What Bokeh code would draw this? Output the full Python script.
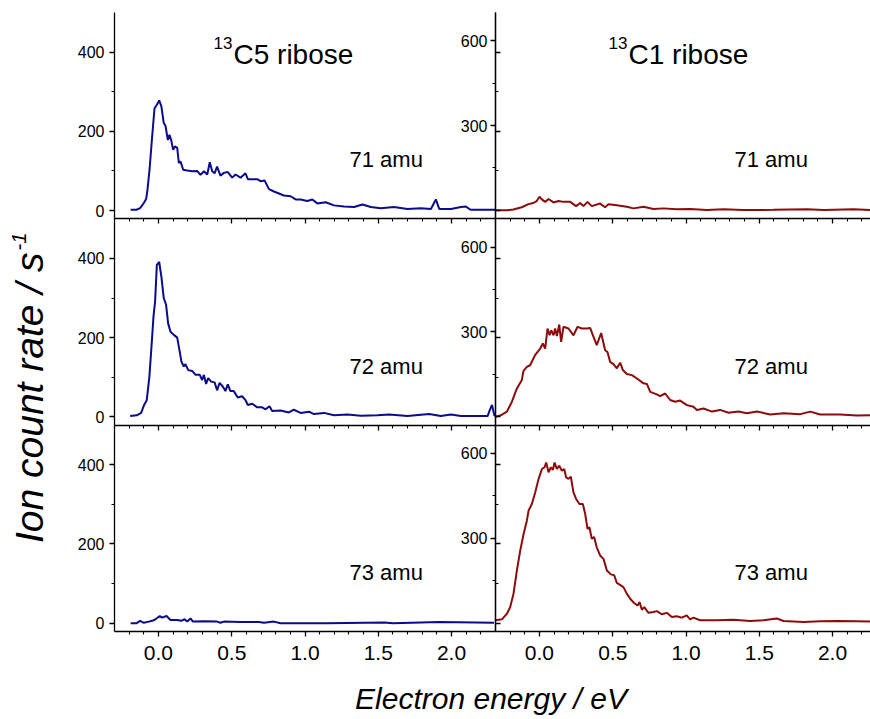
import math
from bokeh.plotting import figure
from bokeh.models import Range1d, LinearAxis, FixedTicker, Label, PrintfTickFormatter
from bokeh.embed import file_html
from bokeh.resources import INLINE

# ---------------- data ----------------
# 13C5 ribose, 71 amu
e_c5_71 = [-0.19, -0.15, -0.125, -0.10, -0.084, -0.075, -0.061, -0.045, -0.027, -0.011,
           0.005, 0.02, 0.036, 0.048, 0.064, 0.075, 0.087, 0.10, 0.112, 0.128,
           0.139, 0.15, 0.169, 0.196, 0.23, 0.264, 0.287, 0.31, 0.333, 0.35,
           0.367, 0.383, 0.40, 0.423, 0.446, 0.473, 0.503, 0.526, 0.56, 0.594,
           0.61, 0.64, 0.674, 0.697, 0.724, 0.754, 0.788, 0.822, 0.856, 0.902,
           0.936, 0.97, 1.016, 1.05, 1.084, 1.141, 1.198, 1.266, 1.335, 1.392,
           1.449, 1.517, 1.608, 1.699, 1.79, 1.859, 1.893, 1.916, 1.996, 2.064,
           2.098, 2.13, 2.22, 2.30]
c5_71 = [2, 2, 6, 19, 29, 52, 103, 178, 258, 267,
         278, 263, 221, 214, 178, 191, 178, 153, 162, 158,
         120, 124, 103, 101, 99, 100, 90, 99, 91, 122,
         99, 94, 111, 88, 95, 97, 83, 91, 83, 94,
         79, 79, 79, 74, 76, 54, 48, 43, 38, 36,
         28, 28, 24, 28, 18, 21, 13, 10, 9, 15,
         9, 6, 9, 4, 6, 4, 28, 4, 4, 9,
         10, 2, 2, 2]

# 13C5 ribose, 72 amu
e_c5_72 = [-0.193, -0.148, -0.118, -0.098, -0.08, -0.062, -0.046, -0.034, -0.023, -0.011,
           0.005, 0.02, 0.036, 0.052, 0.066, 0.082, 0.105, 0.128, 0.143, 0.157,
           0.173, 0.184, 0.203, 0.23, 0.253, 0.282, 0.298, 0.31, 0.325, 0.339,
           0.36, 0.383, 0.40, 0.417, 0.44, 0.457, 0.473, 0.491, 0.514, 0.541,
           0.571, 0.594, 0.61, 0.64, 0.674, 0.708, 0.731, 0.758, 0.776, 0.833,
           0.89, 0.924, 0.97, 1.027, 1.061, 1.13, 1.198, 1.289, 1.381, 1.494,
           1.574, 1.699, 1.847, 1.927, 1.996, 2.064, 2.155, 2.246, 2.262, 2.276,
           2.292, 2.30]
c5_72 = [2, 4, 10, 30, 42, 101, 186, 253, 291, 384,
         391, 354, 300, 283, 236, 215, 207, 200, 169, 139,
         127, 133, 118, 116, 106, 106, 93, 106, 83, 98,
         89, 87, 67, 86, 76, 65, 82, 65, 65, 49,
         52, 42, 30, 33, 24, 24, 19, 27, 15, 16,
         11, 18, 10, 13, 7, 10, 4, 6, 3, 4,
         6, 2, 7, 2, 6, 2, 2, 2, 18, 30,
         4, 2]

# 13C5 ribose, 73 amu
e_c5_73 = [-0.19, -0.148, -0.125, -0.10, -0.066, -0.043, -0.02, 0.009, 0.025, 0.055,
           0.082, 0.128, 0.155, 0.178, 0.196, 0.219, 0.235, 0.31, 0.40, 0.423,
           0.446, 0.56, 0.685, 0.72, 0.788, 0.833, 1.152, 1.54, 1.60, 1.916,
           2.29]
c5_73 = [0, 0, 6, 1, 4, 6, 10, 18, 14, 18,
         8, 8, 6, 10, 4, 12, 4, 5, 4, 1,
         4, 3, 3, 1, 4, 0, 0, 2, 0, 3,
         1]

# 13C1 ribose, 71 amu
e_c1_71 = [-0.30, -0.224, -0.178, -0.121, -0.076, -0.042, -0.019, 0.0, 0.016, 0.039,
           0.062, 0.096, 0.13, 0.164, 0.21, 0.25, 0.278, 0.30, 0.328, 0.357,
           0.414, 0.448, 0.471, 0.528, 0.596, 0.642, 0.71, 0.778, 0.846, 0.937,
           1.028, 1.142, 1.256, 1.39, 1.597, 1.825, 1.94, 2.143, 2.26]
c1_71 = [0, 0, 3, 11, 22, 26, 33, 48, 39, 30,
         40, 28, 33, 30, 30, 15, 26, 15, 30, 15,
         24, 11, 22, 18, 13, 7, 13, 5, 7, 4,
         5, 1, 4, 1, 2, 4, 1, 4, 1]

# 13C1 ribose, 72 amu
e_c1_72 = [-0.30, -0.268, -0.222, -0.188, -0.154, -0.12, -0.109, -0.086, -0.064, -0.03,
           0.005, 0.023, 0.039, 0.055, 0.069, 0.08, 0.096, 0.107, 0.119, 0.135,
           0.148, 0.164, 0.198, 0.232, 0.26, 0.289, 0.323, 0.346, 0.369, 0.391,
           0.421, 0.448, 0.464, 0.482, 0.505, 0.528, 0.551, 0.569, 0.596, 0.631,
           0.665, 0.71, 0.733, 0.756, 0.801, 0.824, 0.858, 0.892, 0.926, 0.96,
           1.006, 1.051, 1.074, 1.12, 1.177, 1.233, 1.29, 1.358, 1.415, 1.484,
           1.575, 1.666, 1.78, 1.848, 1.916, 2.052, 2.166, 2.26]
c1_72 = [0, 4, 18, 53, 100, 130, 162, 176, 182, 218,
         241, 259, 241, 312, 288, 306, 288, 312, 285, 326,
         265, 318, 312, 288, 318, 312, 312, 314, 282, 253,
         296, 235, 229, 194, 186, 171, 191, 165, 151, 147,
         135, 118, 116, 88, 79, 73, 82, 59, 53, 57,
         41, 35, 24, 29, 18, 24, 14, 18, 12, 18,
         8, 12, 9, 18, 8, 8, 4, 5]

# 13C1 ribose, 73 amu
e_c1_73 = [-0.30, -0.256, -0.222, -0.20, -0.177, -0.154, -0.131, -0.108, -0.086, -0.074,
           -0.052, -0.029, -0.006, 0.017, 0.035, 0.046, 0.062, 0.078, 0.092, 0.103,
           0.119, 0.135, 0.153, 0.169, 0.182, 0.198, 0.214, 0.232, 0.25, 0.273,
           0.296, 0.312, 0.328, 0.341, 0.357, 0.373, 0.391, 0.414, 0.437, 0.46,
           0.487, 0.51, 0.528, 0.555, 0.573, 0.596, 0.619, 0.646, 0.669, 0.683,
           0.699, 0.715, 0.744, 0.778, 0.801, 0.835, 0.869, 0.903, 0.937, 0.971,
           1.005, 1.028, 1.051, 1.096, 1.21, 1.324, 1.438, 1.529, 1.62, 1.666,
           1.802, 1.916, 2.03, 2.166, 2.26]
c1_73 = [10, 13, 33, 56, 104, 186, 257, 316, 362, 398,
         421, 462, 510, 545, 551, 568, 533, 551, 542, 568,
         545, 557, 539, 545, 515, 510, 518, 462, 439, 421,
         421, 386, 333, 339, 298, 304, 268, 239, 227, 186,
         172, 169, 142, 133, 127, 104, 86, 71, 62, 74,
         47, 56, 36, 39, 42, 31, 36, 21, 24, 19,
         27, 13, 19, 10, 10, 12, 7, 10, 16, 7,
         4, 6, 7, 6, 5]

mass_labels = ["71 amu", "72 amu", "73 amu"]
col_titles = ["C5 ribose", "C1 ribose"]
title_sup = "13"
left_ticks = [0, 200, 400]
left_minor = [100, 300]
right_ticks = [300, 600]
right_minor = [150, 450]
x_ticks = [0.0, 0.5, 1.0, 1.5, 2.0]
x_label = "Electron energy / eV"
y_label = "Ion count rate / s"
y_label_sup = "-1"

left_series = [(e_c5_71, c5_71), (e_c5_72, c5_72), (e_c5_73, c5_73)]
right_series = [(e_c1_71, c1_71), (e_c1_72, c1_72), (e_c1_73, c1_73)]

# ---------------- layout geometry (pixels) ----------------
W, H = 870, 719
F_LEFT, F_SPLIT, F_RIGHT = 114, 495, 870
F_TOP, F_BOTTOM = 12, 631
NROWS = 3
ROW_H = (F_BOTTOM - F_TOP) / NROWS

X_VIS = (-0.3, 2.3)
PPU = (F_SPLIT - F_LEFT) / (X_VIS[1] - X_VIS[0])
COL_LEFT_PX = {"xL": F_LEFT, "xR": F_SPLIT}
x_full = {name: (X_VIS[0] - px / PPU, X_VIS[0] + (W - px) / PPU) for name, px in COL_LEFT_PX.items()}
XR_END = X_VIS[0] + (F_RIGHT - F_SPLIT) / PPU

YL_VIS = (-21, 500)
YR_VIS = (-30, 700)


def row_range(vis, i):
    upp = (vis[1] - vis[0]) / ROW_H
    top_px = F_TOP + i * ROW_H
    bottom_px = top_px + ROW_H
    return (vis[0] - (H - bottom_px) * upp, vis[1] + top_px * upp)


def sx_to_x(sx, col):
    return x_full[col][0] + sx / PPU


def sy_to_y(sy, vis, i):
    start, end = row_range(vis, i)
    return start + (H - sy) * (end - start) / H


FONT = "Liberation Sans"
BLUE = "#0b0b8c"
RED = "#8c0b0b"
MID = 0.35  # offset (in em) from alphabetic baseline to text middle

p = figure(width=W, height=H,
           x_range=Range1d(*x_full["xL"]), y_range=Range1d(*row_range(YL_VIS, 0)),
           x_axis_location=None, y_axis_location=None,
           toolbar_location=None, output_backend="svg",
           min_border=0, min_border_left=0, min_border_right=0,
           min_border_top=0, min_border_bottom=0)
p.outline_line_color = None
p.background_fill_color = "white"
p.border_fill_color = "white"
p.xgrid.visible = False
p.ygrid.visible = False

p.extra_x_ranges = {name: Range1d(*r) for name, r in x_full.items()}
yr = {}
for i in range(NROWS):
    yr[f"yL{i}"] = Range1d(*row_range(YL_VIS, i))
    yr[f"yR{i}"] = Range1d(*row_range(YR_VIS, i))
p.extra_y_ranges = yr


def make_axis(side, xr, yrn, loc, bounds, ticks, minor, labels, font_size, fmt=None, standoff=4):
    ax = LinearAxis(x_range_name=xr, y_range_name=yrn, fixed_location=loc, bounds=bounds,
                    ticker=FixedTicker(ticks=ticks, minor_ticks=minor),
                    major_tick_in=0, major_tick_out=5, minor_tick_in=0, minor_tick_out=3,
                    axis_line_color="black", axis_line_width=1.3,
                    major_tick_line_color="black", major_tick_line_width=1.3,
                    minor_tick_line_color="black", minor_tick_line_width=1.1,
                    major_label_text_font=FONT, major_label_text_font_size=font_size,
                    major_label_standoff=standoff)
    if fmt is not None:
        ax.formatter = fmt
    ax.major_label_text_color = "black" if labels else None
    p.add_layout(ax, side)
    return ax


x_minor = [round(-0.2 + 0.1 * k, 1) for k in range(25)]
x_minor = [v for v in x_minor if all(abs(v - t) > 1e-6 for t in x_ticks)]

for i in range(NROWS):
    last = (i == NROWS - 1)
    make_axis("left", "xL", f"yL{i}", X_VIS[0], YL_VIS, left_ticks, left_minor, True, "16px", standoff=5)
    make_axis("right", "xL", f"yL{i}", X_VIS[1], YL_VIS, left_ticks, left_minor, False, "16px")
    make_axis("left", "xR", f"yR{i}", X_VIS[0], YR_VIS, right_ticks, right_minor, True, "16px", standoff=3)
    make_axis("below", "xL", f"yL{i}", YL_VIS[0], X_VIS, x_ticks, x_minor, last, "21px",
              fmt=PrintfTickFormatter(format="%.1f"), standoff=9)
    make_axis("below", "xR", f"yR{i}", YR_VIS[0], (X_VIS[0], XR_END), x_ticks, x_minor, last, "21px",
              fmt=PrintfTickFormatter(format="%.1f"), standoff=9)

for i, (xs, ys) in enumerate(left_series):
    p.line(xs, ys, x_range_name="xL", y_range_name=f"yL{i}", line_color=BLUE, line_width=2)
for i, (xs, ys) in enumerate(right_series):
    p.line(xs, ys, x_range_name="xR", y_range_name=f"yR{i}", line_color=RED, line_width=2)


def add_text(text, sx, sy_base, col, vis, row, size, align="left", italic=False, angle=0.0):
    """Place a text whose alphabetic baseline sits at screen pixel sy_base (or sx for rotated)."""
    if angle:
        ax_, ay_ = sx - MID * size, sy_base
    else:
        ax_, ay_ = sx, sy_base - MID * size
    yrn = ("yL" if vis is YL_VIS else "yR") + str(row)
    p.add_layout(Label(x=sx_to_x(ax_, col), y=sy_to_y(ay_, vis, row), x_range_name=col, y_range_name=yrn,
                       text=text, text_font=FONT, text_font_size=f"{size}px",
                       text_font_style="italic" if italic else "normal",
                       text_align=align, text_baseline="middle", angle=angle, text_color="black"))


# amu labels
for i in range(NROWS):
    row_top = F_TOP + i * ROW_H
    add_text(mass_labels[i], 349, row_top + 155, "xL", YL_VIS, i, 22)
    add_text(mass_labels[i], 734, row_top + 155, "xR", YR_VIS, i, 22)

# column titles with superscript mass number
for (col, vis, sx), t in zip([("xL", YL_VIS, 233), ("xR", YR_VIS, 628)], col_titles):
    add_text(t, sx, 63.5, col, vis, 0, 28)
    add_text(title_sup, sx - 1, 48, col, vis, 0, 17, align="right")

# axis titles
add_text(x_label, 490.5, 708, "xL", YL_VIS, 2, 30, align="center", italic=True)
add_text(y_label, 43, 252, "xL", YL_VIS, 1, 39, align="right", italic=True, angle=math.pi / 2)
add_text(y_label_sup, 25, 250, "xL", YL_VIS, 1, 20, align="left", italic=True, angle=math.pi / 2)

open("out.html", "w").write(file_html(p, INLINE))
